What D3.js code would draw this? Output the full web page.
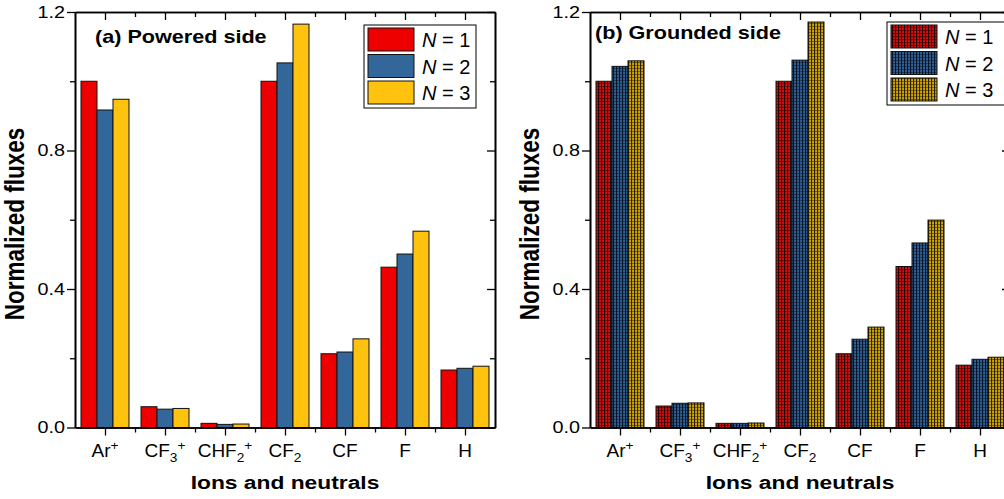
<!DOCTYPE html>
<html>
<head>
<meta charset="utf-8">
<script src="https://cdn.jsdelivr.net/npm/d3@7"></script>
<style>
  body { margin: 0; background: #fff; }
  svg { display: block; font-family: "Liberation Sans", Arial, sans-serif; }
</style>
</head>
<body>
<svg id="chart" width="1004" height="499"></svg>
<script>
// categories, written with _ for subscript and ^ for superscript
const categories = ['Ar^+', 'CF_3^+', 'CHF_2^+', 'CF_2', 'CF', 'F', 'H'];
const seriesNames = ['1', '2', '3'];

const poweredN1 = [1.00, 0.060, 0.012, 1.00, 0.213, 0.463, 0.166];
const poweredN2 = [0.917, 0.053, 0.009, 1.053, 0.218, 0.501, 0.171];
const poweredN3 = [0.948, 0.055, 0.010, 1.165, 0.256, 0.567, 0.177];

const groundedN1 = [1.00, 0.062, 0.012, 1.00, 0.213, 0.465, 0.180];
const groundedN2 = [1.043, 0.070, 0.012, 1.061, 0.255, 0.533, 0.197];
const groundedN3 = [1.059, 0.071, 0.013, 1.171, 0.290, 0.599, 0.203];

const yTicks = [0.0, 0.4, 0.8, 1.2];
const yMinorTicks = [0.2, 0.6, 1.0];

const colors = ['#ee0000', '#336699', '#ffc20e'];
const midColors = ['#8e0000', '#1d3f66', '#8a6c00'];
const brightColors = ['#f01818', '#3a70a8', '#f0c000'];
const darkColors = ['#240000', '#07142a', '#2a1f00'];

// text in the reference is drawn a little wider than the font
const stretch = 1.2;

const svg = d3.select('#chart');

// grid-like patterns for the grounded panel
const defs = svg.append('defs');
midColors.forEach((c, i) => {
  const p = defs.append('pattern')
    .attr('id', 'pat' + i)
    .attr('width', 3)
    .attr('height', 3)
    .attr('patternUnits', 'userSpaceOnUse');
  p.append('rect').attr('width', 3).attr('height', 3).attr('fill', c);
  p.append('rect').attr('x', 0.5).attr('width', 1.2).attr('height', 3).attr('fill', brightColors[i]);
  p.append('rect').attr('x', 2).attr('width', 1).attr('height', 3).attr('fill', darkColors[i]);
  p.append('rect').attr('y', 2).attr('width', 2).attr('height', 1).attr('fill', darkColors[i]).attr('opacity', 0.5);
});

function tickLabel(sel, label) {
  const parts = label.match(/[A-Za-z]+|_[^_^]+|\^[^_^]+/g);
  parts.forEach((part) => {
    if (part[0] === '_') {
      sel.append('tspan').attr('font-size', '0.72em').attr('baseline-shift', -5).text(part.slice(1));
    } else if (part[0] === '^') {
      sel.append('tspan').attr('font-size', '0.72em').attr('baseline-shift', 7).text(part.slice(1));
    } else {
      sel.append('tspan').text(part);
    }
  });
}

function drawPanel(opts) {
  const width = 420;
  const height = 415.5;

  const g = svg.append('g').attr('transform', `translate(${opts.left}, 12)`);

  const x = d3.scaleBand().domain(categories).range([0, width])
    .paddingInner(0.2).paddingOuter(0.1);
  const xSub = d3.scaleBand().domain(seriesNames).range([0, x.bandwidth()]);
  const y = d3.scaleLinear().domain([0, 1.2]).range([height, 0]);

  const step = x.step();
  const centers = categories.map((c) => x(c) + x.bandwidth() / 2);
  const bounds = d3.range(1, categories.length).map((i) => i * step);

  // bars
  opts.series.forEach((vals, si) => {
    g.selectAll('rect.s' + si)
      .data(vals)
      .enter()
      .append('rect')
      .attr('class', 's' + si)
      .attr('x', (d, i) => x(categories[i]) + xSub(seriesNames[si]))
      .attr('y', (d) => y(d))
      .attr('width', xSub.bandwidth())
      .attr('height', (d) => height - y(d))
      .attr('fill', opts.fill(si))
      .attr('stroke', '#111')
      .attr('stroke-width', 1);
  });

  // y axis left
  const yAxis = g.append('g')
    .call(d3.axisLeft(y).tickValues(yTicks).tickFormat(d3.format('.1f')).tickSize(8).tickSizeOuter(0));
  g.append('g')
    .call(d3.axisLeft(y).tickValues(yMinorTicks).tickFormat('').tickSize(5).tickSizeOuter(0));

  // y axis right (inward)
  g.append('g').attr('transform', `translate(${width},0)`)
    .call(d3.axisLeft(y).tickValues(yTicks).tickFormat('').tickSize(8).tickSizeOuter(0));
  g.append('g').attr('transform', `translate(${width},0)`)
    .call(d3.axisLeft(y).tickValues(yMinorTicks).tickFormat('').tickSize(5).tickSizeOuter(0));

  // x axis bottom
  const xPos = d3.scaleLinear().domain([0, width]).range([0, width]);
  g.append('g').attr('transform', `translate(0,${height})`)
    .call(d3.axisBottom(xPos).tickValues(centers).tickFormat('').tickSize(8).tickSizeOuter(0));
  g.append('g').attr('transform', `translate(0,${height})`)
    .call(d3.axisBottom(xPos).tickValues(bounds).tickFormat('').tickSize(5).tickSizeOuter(0));

  // x axis top (inward)
  g.append('g')
    .call(d3.axisBottom(xPos).tickValues(centers).tickFormat('').tickSize(8).tickSizeOuter(0));
  g.append('g')
    .call(d3.axisBottom(xPos).tickValues(bounds).tickFormat('').tickSize(5).tickSizeOuter(0));

  g.selectAll('.domain').attr('stroke-width', 1.6);
  g.selectAll('.tick line').attr('stroke-width', 1.3);

  yAxis.selectAll('text')
    .attr('font-size', 16.5)
    .attr('font-family', '"Liberation Sans", Arial, sans-serif')
    .attr('fill', '#000')
    .attr('x', 0)
    .attr('transform', `translate(-10,0) scale(${stretch},1)`);

  // category labels
  g.selectAll('text.cat')
    .data(categories)
    .enter()
    .append('text')
    .attr('class', 'cat')
    .attr('x', (d) => x(d) + x.bandwidth() / 2)
    .attr('y', height + 29)
    .attr('text-anchor', 'middle')
    .attr('font-size', 19)
    .each(function (d) { tickLabel(d3.select(this), d); });

  // axis titles
  g.append('text')
    .attr('transform', `translate(${width / 2}, 477) scale(${stretch},1)`)
    .attr('text-anchor', 'middle')
    .attr('font-size', 19)
    .attr('font-weight', 'bold')
    .text('Ions and neutrals');

  g.append('text')
    .attr('transform', `translate(-51, 212) scale(${stretch},1) rotate(-90)`)
    .attr('text-anchor', 'middle')
    .attr('font-size', 22.5)
    .attr('font-weight', 'bold')
    .text('Normalized fluxes');

  // panel title
  g.append('text')
    .attr('transform', `translate(${opts.titleX}, ${opts.titleY}) scale(${stretch},1)`)
    .attr('font-size', 18)
    .attr('font-weight', 'bold')
    .text(opts.title);

  // legend
  const lg = g.append('g').attr('transform', `translate(${opts.legendX}, ${opts.legendY})`);
  lg.append('rect')
    .attr('width', opts.legendW).attr('height', 83)
    .attr('fill', '#fff').attr('stroke', '#000').attr('stroke-width', 1);
  seriesNames.forEach((s, i) => {
    lg.append('rect')
      .attr('x', 4).attr('y', 3 + i * 26.5)
      .attr('width', 46).attr('height', 23)
      .attr('fill', opts.fill(i)).attr('stroke', '#111').attr('stroke-width', 1);
    const t = lg.append('text')
      .attr('x', 58).attr('y', 22 + i * 26.5)
      .attr('font-size', 20);
    t.append('tspan').attr('font-style', 'italic').text('N');
    t.append('tspan').text(' = ' + s);
  });
}

drawPanel({
  left: 75,
  series: [poweredN1, poweredN2, poweredN3],
  fill: (i) => colors[i],
  title: '(a) Powered side',
  titleX: 20, titleY: 31,
  legendX: 289, legendY: 13, legendW: 112
});

drawPanel({
  left: 590,
  series: [groundedN1, groundedN2, groundedN3],
  fill: (i) => `url(#pat${i})`,
  title: '(b) Grounded side',
  titleX: 5, titleY: 26.5,
  legendX: 297, legendY: 10, legendW: 120
});
</script>
</body>
</html>
